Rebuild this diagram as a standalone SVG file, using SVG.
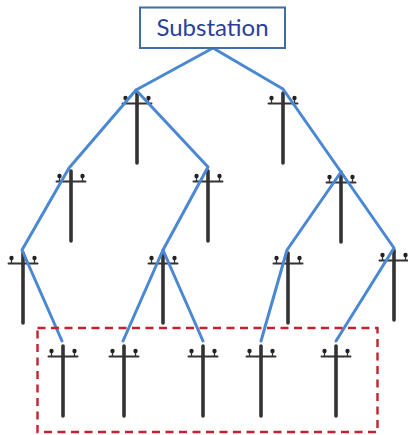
<svg xmlns="http://www.w3.org/2000/svg" width="408" height="435" viewBox="0 0 408 435">
<style>
.pole{fill:none;stroke:#333;stroke-linecap:round}
.mast{stroke-width:3.6}
.arm{stroke-width:2}
.pin{stroke-width:1.3}
.ins{fill:#222;stroke:none}
.wire{fill:none;stroke:#4a88d4;stroke-width:3;stroke-linejoin:round;stroke-linecap:round}
</style>
<defs>
<g id="p">
<path class="pole mast" d="M0 0V70"/>
<path class="pole arm" d="M-14.500 10.500H14.500"/>
<path class="pole pin" d="M-11.500 5V10M11.500 5V10"/>
<circle class="ins" cx="-11.500" cy="5" r="2.200"/>
<circle class="ins" cx="11.500" cy="5" r="2.200"/>
</g>
</defs>
<rect width="408" height="435" fill="#fff"/>
<g id="poles">
<use id="pole-1" href="#p" x="137" y="93"/>
<use id="pole-2" href="#p" x="283" y="93"/>
<use id="pole-3" href="#p" x="71" y="171"/>
<use id="pole-4" href="#p" x="208" y="171"/>
<use id="pole-5" href="#p" x="341" y="172"/>
<use id="pole-6" href="#p" x="23" y="253"/>
<use id="pole-7" href="#p" x="163" y="253"/>
<use id="pole-8" href="#p" x="288" y="253"/>
<use id="pole-9" href="#p" x="394" y="250"/>
<use id="pole-10" href="#p" x="63" y="346"/>
<use id="pole-11" href="#p" x="124" y="346"/>
<use id="pole-12" href="#p" x="203" y="346"/>
<use id="pole-13" href="#p" x="261" y="346"/>
<use id="pole-14" href="#p" x="336" y="346"/>
</g>
<g id="connectors">
<path class="wire" d="M213 48L136 90L69 168L22 250L62 341"/>
<path class="wire" d="M136 90L208 167L163 250L123 341"/>
<path class="wire" d="M163 250L203 341"/>
<path class="wire" d="M213 48L283 89L341 172L287 250L261 341"/>
<path class="wire" d="M341 172L394 248L336 341"/>
</g>
<g id="substation">
<rect x="140" y="7.500" width="145" height="40.500" fill="#fff" stroke="#3d6ea5" stroke-width="2"/>
<text x="212.500" y="36" font-family="Lato,'Liberation Sans',sans-serif" font-size="24" fill="#2a3f9d" text-anchor="middle">Substation</text>
</g>
<rect id="boundary" x="37.500" y="328" width="340" height="104" fill="none" stroke="#c4202e" stroke-width="2.400" stroke-dasharray="8 5.500"/>
</svg>
